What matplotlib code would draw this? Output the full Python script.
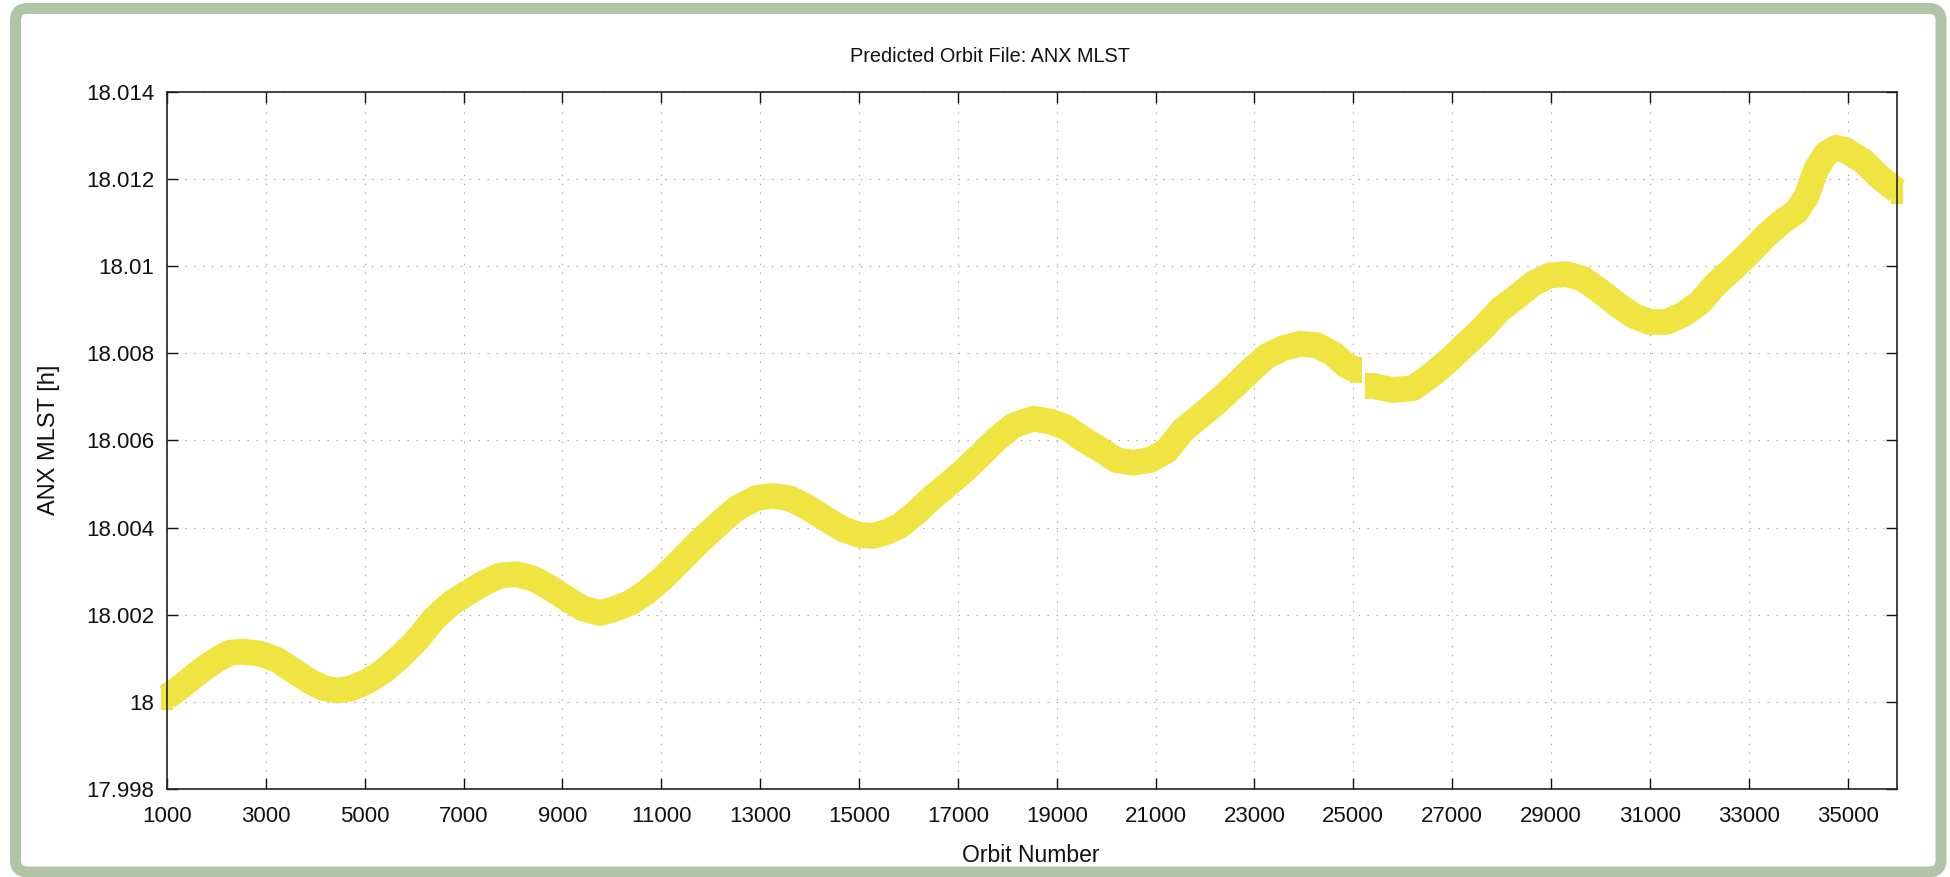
import matplotlib
matplotlib.use("Agg")
import matplotlib.pyplot as plt
from matplotlib.patches import FancyBboxPatch

# ---- data ----
orbit_a = [1000, 1330, 1667, 2005, 2274, 2544, 2881, 3218, 3555, 3892, 4162, 4432,
           4701, 5038, 5376, 5713, 6050, 6387, 6724, 7061, 7398, 7735, 8072, 8409,
           8746, 9084, 9421, 9758, 10028, 10365, 10702, 11040, 11377, 11781, 12186,
           12523, 12927, 13264, 13601, 13939, 14343, 14680, 15017, 15287, 15557,
           15827, 16163, 16500, 16770, 17107, 17444, 17781, 18119, 18388, 18523,
           18860, 19197, 19535, 19872, 20209, 20546, 20883, 21220, 21557, 21894,
           22231, 22568, 22906, 23243, 23580, 23917, 24254, 24591, 24861, 25050]
mlst_a = [18.00011, 18.00039, 18.0007, 18.00097, 18.00113, 18.00115, 18.00111,
          18.00097, 18.00072, 18.00047, 18.00032, 18.00026, 18.0003, 18.00046,
          18.0007, 18.00103, 18.00141, 18.00189, 18.00224, 18.00249, 18.00272,
          18.0029, 18.00293, 18.00283, 18.00262, 18.00237, 18.00214, 18.00204,
          18.00212, 18.00227, 18.00252, 18.00285, 18.00323, 18.00369, 18.00411,
          18.00444, 18.00468, 18.00473, 18.00467, 18.00448, 18.00419, 18.00396,
          18.00383, 18.00381, 18.0039, 18.00404, 18.00435, 18.00471, 18.00496,
          18.00529, 18.00565, 18.00603, 18.00634, 18.00645, 18.0065, 18.00644,
          18.0063, 18.00603, 18.0058, 18.00555, 18.00549, 18.00555, 18.00576,
          18.00624, 18.00655, 18.00687, 18.00722, 18.00759, 18.00793, 18.00812,
          18.00822, 18.00819, 18.00799, 18.00772, 18.00762]
orbit_b = [25350, 25805, 26209, 26613, 26950, 27287, 27625, 27962, 28299, 28636,
           28973, 29310, 29647, 29984, 30321, 30658, 30996, 31333, 31670, 32007,
           32344, 32681, 33019, 33356, 33693, 33963, 34164, 34366, 34569, 34771,
           34973, 35310, 35646, 36000]
mlst_b = [18.00726, 18.00716, 18.0072, 18.00753, 18.00786, 18.00822, 18.00858,
          18.009, 18.00929, 18.0096, 18.00979, 18.00982, 18.00971, 18.00944,
          18.00914, 18.00887, 18.00872, 18.00872, 18.00889, 18.00916, 18.0096,
          18.00994, 18.01031, 18.01071, 18.01104, 18.01125, 18.01159, 18.01223,
          18.01259, 18.01272, 18.01266, 18.01242, 18.01205, 18.01173]

x_ticks = list(range(1000, 36000, 2000))
y_ticks = [17.998, 18.0, 18.002, 18.004, 18.006, 18.008, 18.01, 18.012, 18.014]
y_tick_labels = ["17.998", "18", "18.002", "18.004", "18.006", "18.008",
                 "18.01", "18.012", "18.014"]

title = "Predicted Orbit File: ANX MLST"
x_label = "Orbit Number"
y_label = "ANX MLST [h]"

# ---- style ----
plt.rcParams["font.family"] = ["Liberation Sans", "DejaVu Sans"]
W, H, DPI = 1950, 877, 100
fig = plt.figure(figsize=(W / DPI, H / DPI), dpi=DPI, facecolor="white")

# green rounded frame
frame = FancyBboxPatch((0.155, 0.05), 19.255, 8.635,
                       boxstyle="round,pad=0,rounding_size=0.12",
                       transform=fig.dpi_scale_trans,
                       facecolor="white", edgecolor="#b0c4a8",
                       linewidth=7.9, zorder=0)
fig.add_artist(frame)

ax = fig.add_axes([167 / W, 1 - 789 / H, (1897 - 167) / W, (789 - 92) / H])
ax.set_facecolor("white")
ax.set_xlim(1000, 36000)
ax.set_ylim(17.998, 18.014)

yellow = "#f0e442"
rect = [(-0.25, -0.5), (0.25, -0.5), (0.25, 0.5), (-0.25, 0.5)]
for xs, ys in ((orbit_a, mlst_a), (orbit_b, mlst_b)):
    ax.plot(xs, ys, color=yellow, lw=18.5, solid_capstyle="butt",
            solid_joinstyle="round", clip_on=False, zorder=3)
    ax.plot([xs[0], xs[-1]], [ys[0], ys[-1]], linestyle="none", marker=rect,
            markersize=18.5, color=yellow, markeredgewidth=0, clip_on=False,
            zorder=3)

ax.set_xticks(x_ticks)
ax.set_xticklabels([str(v) for v in x_ticks])
ax.set_yticks(y_ticks)
ax.set_yticklabels(y_tick_labels)
ax.tick_params(direction="in", length=8, width=1.0, top=True, right=True,
               labelsize=16, colors="#111111")
ax.tick_params(axis="y", pad=9)
ax.tick_params(axis="x", pad=12)

ax.set_axisbelow(True)
ax.grid(True, linestyle=(0, (1.2, 6.8)), color="#a8a8a8", linewidth=0.8)
for sp in ax.spines.values():
    sp.set_linewidth(1.2)
    sp.set_color("#222222")
    sp.set_zorder(4)

fig.text(989.5 / W, 1 - 56 / H, title, ha="center", va="center", fontsize=14.3,
         color="#111111")
fig.text(1031 / W, 1 - 855 / H, x_label, ha="center", va="center", fontsize=16.5,
         color="#111111")
fig.text(49 / W, 1 - 440 / H, y_label, ha="center", va="center", fontsize=17,
         rotation=90, color="#111111")

fig.savefig("out.png", dpi=DPI, facecolor="white")
